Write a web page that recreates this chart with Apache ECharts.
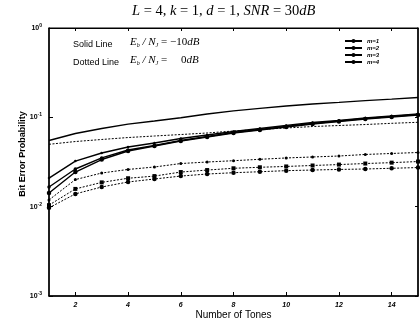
<!DOCTYPE html>
<html>
<head>
<meta charset="utf-8">
<script src="https://cdn.jsdelivr.net/npm/echarts@6/dist/echarts.min.js"></script>
<style>html,body{margin:0;padding:0;background:#fff}#main{width:420px;height:320px}</style>
</head>
<body>
<div id="main"></div>
<script>
// number of tones on the x axis
var tones = ['1','2','3','4','5','6','7','8','9','10','11','12','13','14','15'];
// solid lines : Eb/NJ = -10dB
var solidM1 = [0.055,0.066,0.075,0.084,0.091,0.099,0.109,0.118,0.126,0.134,0.141,0.147,0.154,0.160,0.167];
var solidM2 = [0.0209,0.0324,0.0399,0.0465,0.0516,0.0579,0.0634,0.0694,0.0750,0.0810,0.0875,0.0922,0.0983,0.1035,0.1090];
var solidM3 = [0.0166,0.0264,0.0351,0.0431,0.0484,0.0550,0.0610,0.0676,0.0731,0.0789,0.0853,0.0910,0.0970,0.1022,0.1076];
var solidM4 = [0.0142,0.0244,0.0337,0.0420,0.0478,0.0543,0.0602,0.0668,0.0722,0.0779,0.0842,0.0898,0.0958,0.1009,0.1062];
// dotted lines : Eb/NJ = 0dB
var dotM1 = [0.0499,0.0536,0.0565,0.0594,0.0618,0.0642,0.0668,0.0703,0.0731,0.0760,0.0789,0.0810,0.0831,0.0857,0.0880];
var dotM2 = [0.0119,0.0201,0.0238,0.0261,0.0278,0.0304,0.0316,0.0327,0.0339,0.0351,0.0360,0.0369,0.0384,0.0394,0.0404];
var dotM3 = [0.0104,0.0158,0.0187,0.0208,0.0220,0.0244,0.0257,0.0269,0.0276,0.0282,0.0289,0.0296,0.0304,0.0311,0.0320];
var dotM4 = [0.0097,0.0139,0.0166,0.0189,0.0204,0.0220,0.0232,0.0240,0.0246,0.0253,0.0257,0.0261,0.0264,0.0269,0.0274];
var legendNames = ['m=1','m=2','m=3','m=4'];

var myChart = echarts.init(document.getElementById('main'));

function evenTone(idx, val) { return Number(val) % 2 === 0; }
function powLabel(v) {
  var e = Math.round(Math.log(v) / Math.LN10);
  return '10{s|' + e + '}';
}

var solidStyle = { color: '#000', width: 1.4, type: 'solid' };
var dotStyle = { color: '#000', width: 1, type: [2, 1.5] };

var option = {
  animation: false,
  backgroundColor: '#fff',
  grid: { left: 49, right: 2, top: 28, bottom: 24, outerBoundsMode: 'none', show: true, borderColor: '#000', borderWidth: 1 },
  legend: {
    data: legendNames,
    orient: 'vertical',
    left: 344, top: 38,
    itemWidth: 17, itemHeight: 5, itemGap: 1,
    padding: 0,
    textStyle: { fontSize: 6, fontStyle: 'italic', fontWeight: 'bold', color: '#000', fontFamily: 'Liberation Sans', lineHeight: 5 }
  },
  xAxis: [{
    type: 'category',
    data: tones,
    boundaryGap: false,
    axisLine: { lineStyle: { color: '#000', width: 1.5 } },
    axisTick: { inside: true, length: 4, interval: evenTone, lineStyle: { color: '#000' } },
    axisLabel: { interval: evenTone, fontSize: 7, fontStyle: 'italic', fontWeight: 'bold', color: '#000', margin: 6, fontFamily: 'Liberation Sans' },
    splitLine: { show: false },
    name: 'Number of Tones',
    nameLocation: 'middle',
    nameGap: 14,
    nameMoveOverlap: false,
    nameTextStyle: { fontSize: 10, color: '#000', fontFamily: 'Liberation Sans' }
  }, {
    type: 'category',
    data: tones,
    position: 'top',
    boundaryGap: false,
    axisLine: { lineStyle: { color: '#000', width: 1 } },
    axisTick: { inside: true, length: 3, interval: evenTone, lineStyle: { color: '#000' } },
    axisLabel: { show: false },
    splitLine: { show: false }
  }],
  yAxis: [{
    type: 'log',
    logBase: 10,
    min: 0.001,
    max: 1,
    axisLine: { show: true, lineStyle: { color: '#000', width: 1.5 } },
    axisTick: { show: true, inside: true, length: 4, lineStyle: { color: '#000' } },
    axisLabel: {
      formatter: powLabel,
      color: '#000', margin: 7,
      rich: { s: { fontSize: 5, fontWeight: 'bold', verticalAlign: 'top', padding: [0, 0, 5, 0] } },
      fontSize: 7, fontWeight: 'bold', fontFamily: 'Liberation Sans'
    },
    splitLine: { show: false },
    name: 'Bit Error Probability',
    nameLocation: 'middle',
    nameGap: 22,
    nameMoveOverlap: false,
    nameTextStyle: { fontSize: 9, fontWeight: 'bold', color: '#000', fontFamily: 'Liberation Sans', padding: [0, 0, 0, 16] }
  }, {
    type: 'log',
    logBase: 10,
    min: 0.001,
    max: 1,
    position: 'right',
    axisLine: { show: true, lineStyle: { color: '#000', width: 1.5 } },
    axisTick: { show: true, inside: true, length: 3, lineStyle: { color: '#000' } },
    axisLabel: { show: false },
    splitLine: { show: false }
  }],
  graphic: [
    { type: 'text', left: 132, top: 4, style: {
      text: '{i|L} = 4, {i|k} = 1, {i|d} = 1, {i|SNR} = 30{i|dB}',
      font: '14.5px "Liberation Serif"', fill: '#000',
      rich: { i: { fontStyle: 'italic', fontSize: 14.5, fontFamily: 'Liberation Serif' } } } },
    { type: 'text', left: 73, top: 40, style: { text: 'Solid Line', font: '9px "Liberation Sans"', fill: '#000' } },
    { type: 'text', left: 73, top: 58, style: { text: 'Dotted Line', font: '9px "Liberation Sans"', fill: '#000' } },
    { type: 'text', left: 130, top: 37, style: {
      text: '{i|E}{b|b} {i|/ N}{b|J} = \u221210{i|dB}',
      font: '11px "Liberation Serif"', fill: '#000',
      rich: { i: { fontStyle: 'italic', fontSize: 11, fontFamily: 'Liberation Serif' },
              b: { fontSize: 6, fontStyle: 'italic', fontFamily: 'Liberation Serif', verticalAlign: 'bottom', padding: [4, 0, 0, 0] } } } },
    { type: 'text', left: 130, top: 55, style: {
      text: '{i|E}{b|b} {i|/ N}{b|J} =     0{i|dB}',
      font: '11px "Liberation Serif"', fill: '#000',
      rich: { i: { fontStyle: 'italic', fontSize: 11, fontFamily: 'Liberation Serif' },
              b: { fontSize: 6, fontStyle: 'italic', fontFamily: 'Liberation Serif', verticalAlign: 'bottom', padding: [4, 0, 0, 0] } } } }
  ],
  series: [
    { name: 'm=1', type: 'line', data: solidM1, symbol: 'none', lineStyle: solidStyle, itemStyle: { color: '#000' } },
    { name: 'm=2', type: 'line', data: solidM2, symbol: 'circle', symbolSize: 2.5, lineStyle: solidStyle, itemStyle: { color: '#000' } },
    { name: 'm=3', type: 'line', data: solidM3, symbol: 'circle', symbolSize: 3.5, lineStyle: solidStyle, itemStyle: { color: '#000' } },
    { name: 'm=4', type: 'line', data: solidM4, symbol: 'circle', symbolSize: 4.5, lineStyle: solidStyle, itemStyle: { color: '#000' } },
    { name: 'm=1 dotted', type: 'line', data: dotM1, symbol: 'none', lineStyle: dotStyle, itemStyle: { color: '#000' } },
    { name: 'm=2 dotted', type: 'line', data: dotM2, symbol: 'circle', symbolSize: 3, lineStyle: dotStyle, itemStyle: { color: '#000' } },
    { name: 'm=3 dotted', type: 'line', data: dotM3, symbol: 'rect', symbolSize: 4, lineStyle: dotStyle, itemStyle: { color: '#000' } },
    { name: 'm=4 dotted', type: 'line', data: dotM4, symbol: 'circle', symbolSize: 4.5, lineStyle: dotStyle, itemStyle: { color: '#000' } }
  ]
};

myChart.setOption(option);
</script>
</body>
</html>
